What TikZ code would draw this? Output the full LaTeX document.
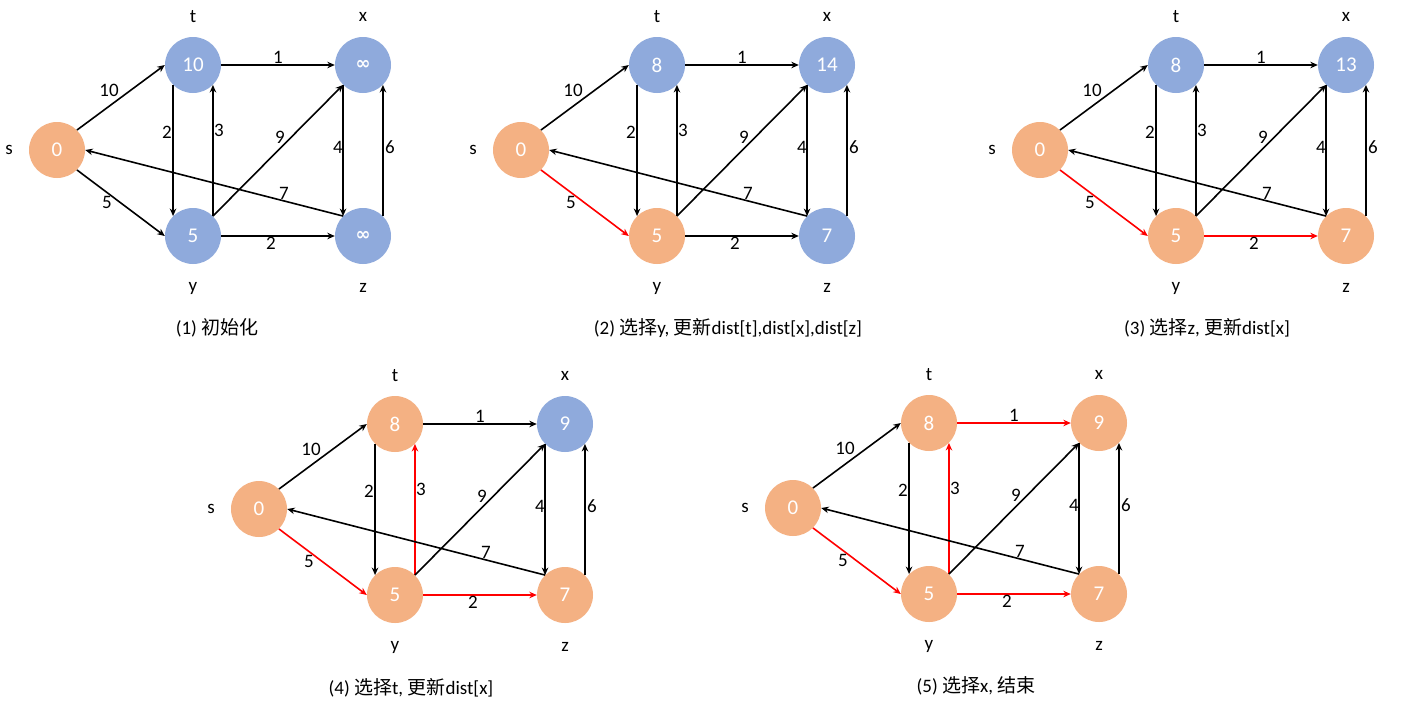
\documentclass[tikz,border=0pt]{standalone}
\usepackage{fontspec}
\setmainfont{Carlito}
\newfontfamily\cjk{Noto Sans CJK SC}
\newfontfamily\symf{DejaVu Sans}
\usetikzlibrary{arrows.meta}
\definecolor{nodeorange}{HTML}{F4B183}
\definecolor{nodeblue}{HTML}{8FAADC}
\definecolor{hotred}{HTML}{FF0000}
\tikzset{
  vert/.style={circle, minimum size=56pt, inner sep=0pt, text=white, font=\fontsize{21}{24}\selectfont},
  vorange/.style={fill=nodeorange},
  vblue/.style={fill=nodeblue},
  edgearrow/.style={-{Stealth[length=7.5pt,width=6.5pt]}, line width=1.6pt, color=black},
  hot/.style={color=hotred},
  wlab/.style={font=\fontsize{19}{22}\selectfont, inner sep=0pt},
  nlab/.style={font=\fontsize{19}{22}\selectfont, inner sep=0pt},
  captext/.style={font=\fontsize{19}{22}\selectfont, inner sep=0pt},
  cs/.style={vorange}, ct/.style={vblue}, cx/.style={vblue}, cy/.style={vblue}, cz/.style={vblue},
  e-st/.style={}, e-sy/.style={}, e-tx/.style={}, e-ty/.style={}, e-yt/.style={},
  e-yx/.style={}, e-yz/.style={}, e-xz/.style={}, e-zx/.style={}, e-zs/.style={}
}
\newcommand\inftysym{{\symf\bfseries\fontsize{18}{20}\selectfont ∞}}
\newcommand\dgraph[1]{%
  \node[vert,cs] (#1-s) at (57,150) {0};
  \node[vert,ct] (#1-t) at (193,65) {\vt};
  \node[vert,cx] (#1-x) at (363,65) {\vx};
  \node[vert,cy] (#1-y) at (193,236) {\vy};
  \node[vert,cz] (#1-z) at (363,236) {\vz};
  \node[nlab] (#1-ls) at (9,150) {s};
  \node[nlab] (#1-lt) at (193,17) {t};
  \node[nlab] (#1-lx) at (363,17) {x};
  \node[nlab] (#1-ly) at (193,288) {y};
  \node[nlab] (#1-lz) at (363,288) {z};
  \draw[edgearrow,e-st] (#1-s.45) -- (#1-t.west);
  \draw[edgearrow,e-sy] (#1-s.315) -- (#1-y.west);
  \draw[edgearrow,e-tx] (#1-t.east) -- (#1-x.west);
  \draw[edgearrow,e-ty] (#1-t.225) -- (#1-y.135);
  \draw[edgearrow,e-yt] (#1-y.45) -- (#1-t.315);
  \draw[edgearrow,e-yx] (#1-y.45) -- (#1-x.225);
  \draw[edgearrow,e-yz] (#1-y.east) -- (#1-z.west);
  \draw[edgearrow,e-xz] (#1-x.225) -- (#1-z.135);
  \draw[edgearrow,e-zx] (#1-z.45) -- (#1-x.315);
  \draw[edgearrow,e-zs] (#1-z.135) -- (#1-s.east);
  \node[wlab] (#1-w1) at (109,90) {10};
  \node[wlab] (#1-w2) at (107,202) {5};
  \node[wlab] (#1-w3) at (278,57) {1};
  \node[wlab] (#1-w4) at (167,132) {2};
  \node[wlab] (#1-w5) at (219,130) {3};
  \node[wlab] (#1-w6) at (280,137) {9};
  \node[wlab] (#1-w7) at (338,147) {4};
  \node[wlab] (#1-w8) at (390,147) {6};
  \node[wlab] (#1-w9) at (284,193) {7};
  \node[wlab] (#1-w10) at (271,243) {2};
}
\begin{document}
\begin{tikzpicture}[x=1pt,y=-1pt]
  \useasboundingbox[fill=white] (0,0) rectangle (1407,710);
  % (1)
  \begin{scope}
    \def\vt{10}\def\vx{\inftysym}\def\vy{5}\def\vz{\inftysym}
    \dgraph{a}
  \end{scope}
  % (2)
  \begin{scope}[shift={(464,0)}, cy/.style={vorange}, e-sy/.style={hot}]
    \def\vt{8}\def\vx{14}\def\vy{5}\def\vz{7}
    \dgraph{b}
  \end{scope}
  % (3)
  \begin{scope}[shift={(983,0)}, cy/.style={vorange}, cz/.style={vorange},
      e-sy/.style={hot}, e-yz/.style={hot}]
    \def\vt{8}\def\vx{13}\def\vy{5}\def\vz{7}
    \dgraph{c}
  \end{scope}
  % (4)
  \begin{scope}[shift={(202,359)}, ct/.style={vorange}, cy/.style={vorange}, cz/.style={vorange},
      e-sy/.style={hot}, e-yz/.style={hot}, e-yt/.style={hot}]
    \def\vt{8}\def\vx{9}\def\vy{5}\def\vz{7}
    \dgraph{d}
  \end{scope}
  % (5)
  \begin{scope}[shift={(736,358)}, ct/.style={vorange}, cx/.style={vorange}, cy/.style={vorange}, cz/.style={vorange},
      e-sy/.style={hot}, e-yz/.style={hot}, e-yt/.style={hot}, e-tx/.style={hot}]
    \def\vt{8}\def\vx{9}\def\vy{5}\def\vz{7}
    \dgraph{e}
  \end{scope}
  \node[captext] (cap1) at (217,328) {(1) {\cjk 初始化}};
  \node[captext] (cap2) at (728,328) {(2) {\cjk 选择}y, {\cjk 更新}dist[t],dist[x],dist[z]};
  \node[captext] (cap3) at (1207,328) {(3) {\cjk 选择}z, {\cjk 更新}dist[x]};
  \node[captext] (cap4) at (411,688) {(4) {\cjk 选择}t, {\cjk 更新}dist[x]};
  \node[captext] (cap5) at (976,686) {(5) {\cjk 选择}x, {\cjk 结束}};
\end{tikzpicture}
\end{document}
